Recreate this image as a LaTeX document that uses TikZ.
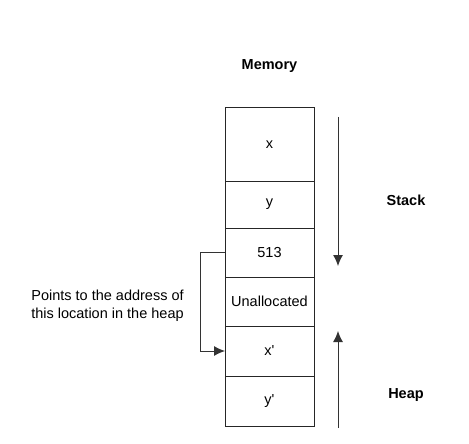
\documentclass[tikz,border=0pt]{standalone}
\usepackage{fontspec}
\setmainfont{Liberation Sans}
\usetikzlibrary{positioning, arrows.meta}
\tikzset{
	cell/.style={draw=black!85, line width=1pt, minimum width=89pt, outer sep=0pt, inner sep=0pt, font=\fontsize{14.5}{17}\selectfont},
	tag/.style={font=\bfseries\fontsize{14.5}{17}\selectfont},
	growline/.style={draw=black!80, line width=1pt, -{Latex[length=11pt, width=10pt]}}
}
\begin{document}
\begin{tikzpicture}[x=1pt, y=-1pt]
		\useasboundingbox (0, 0) rectangle (469, 444);
		\node[tag] (memory) at (269.5, 66) {Memory};

		% the memory cells, top to bottom
		\node[cell, minimum height=73pt] (cx) at (269.5, 144.5) {x};
		\node[cell, minimum height=47pt, below=0pt of cx] (cy) {y};
		\node[cell, minimum height=49pt, below=0pt of cy] (c513) {513};
		\node[cell, minimum height=49pt, below=0pt of c513] (cfree) {Unallocated};
		\node[cell, minimum height=50pt, below=0pt of cfree] (cxp) {x\textquotesingle};
		\node[cell, minimum height=50pt, below=0pt of cxp] (cyp) {y\textquotesingle};

		\node[tag] (stack) at (406, 200) {Stack};
		\node[tag] (heap) at (406, 395) {Heap};
		\coordinate (stacktop) at (338, 117);
		\coordinate (stackend) at (338, 266);
		\coordinate (heapbot) at (338, 428);
		\coordinate (heapend) at (338, 331);
		\draw[growline] (stacktop) -- (stackend);
		\draw[growline] (heapbot) -- (heapend);

		\node[align=center, font=\fontsize{14.5}{18}\selectfont] (note) at (107.5, 306) {Points to the address of\\this location in the heap};
		\draw[growline] (c513.west) -- ++(-25, 0) |- (cxp.west);
	\end{tikzpicture}
\end{document}
